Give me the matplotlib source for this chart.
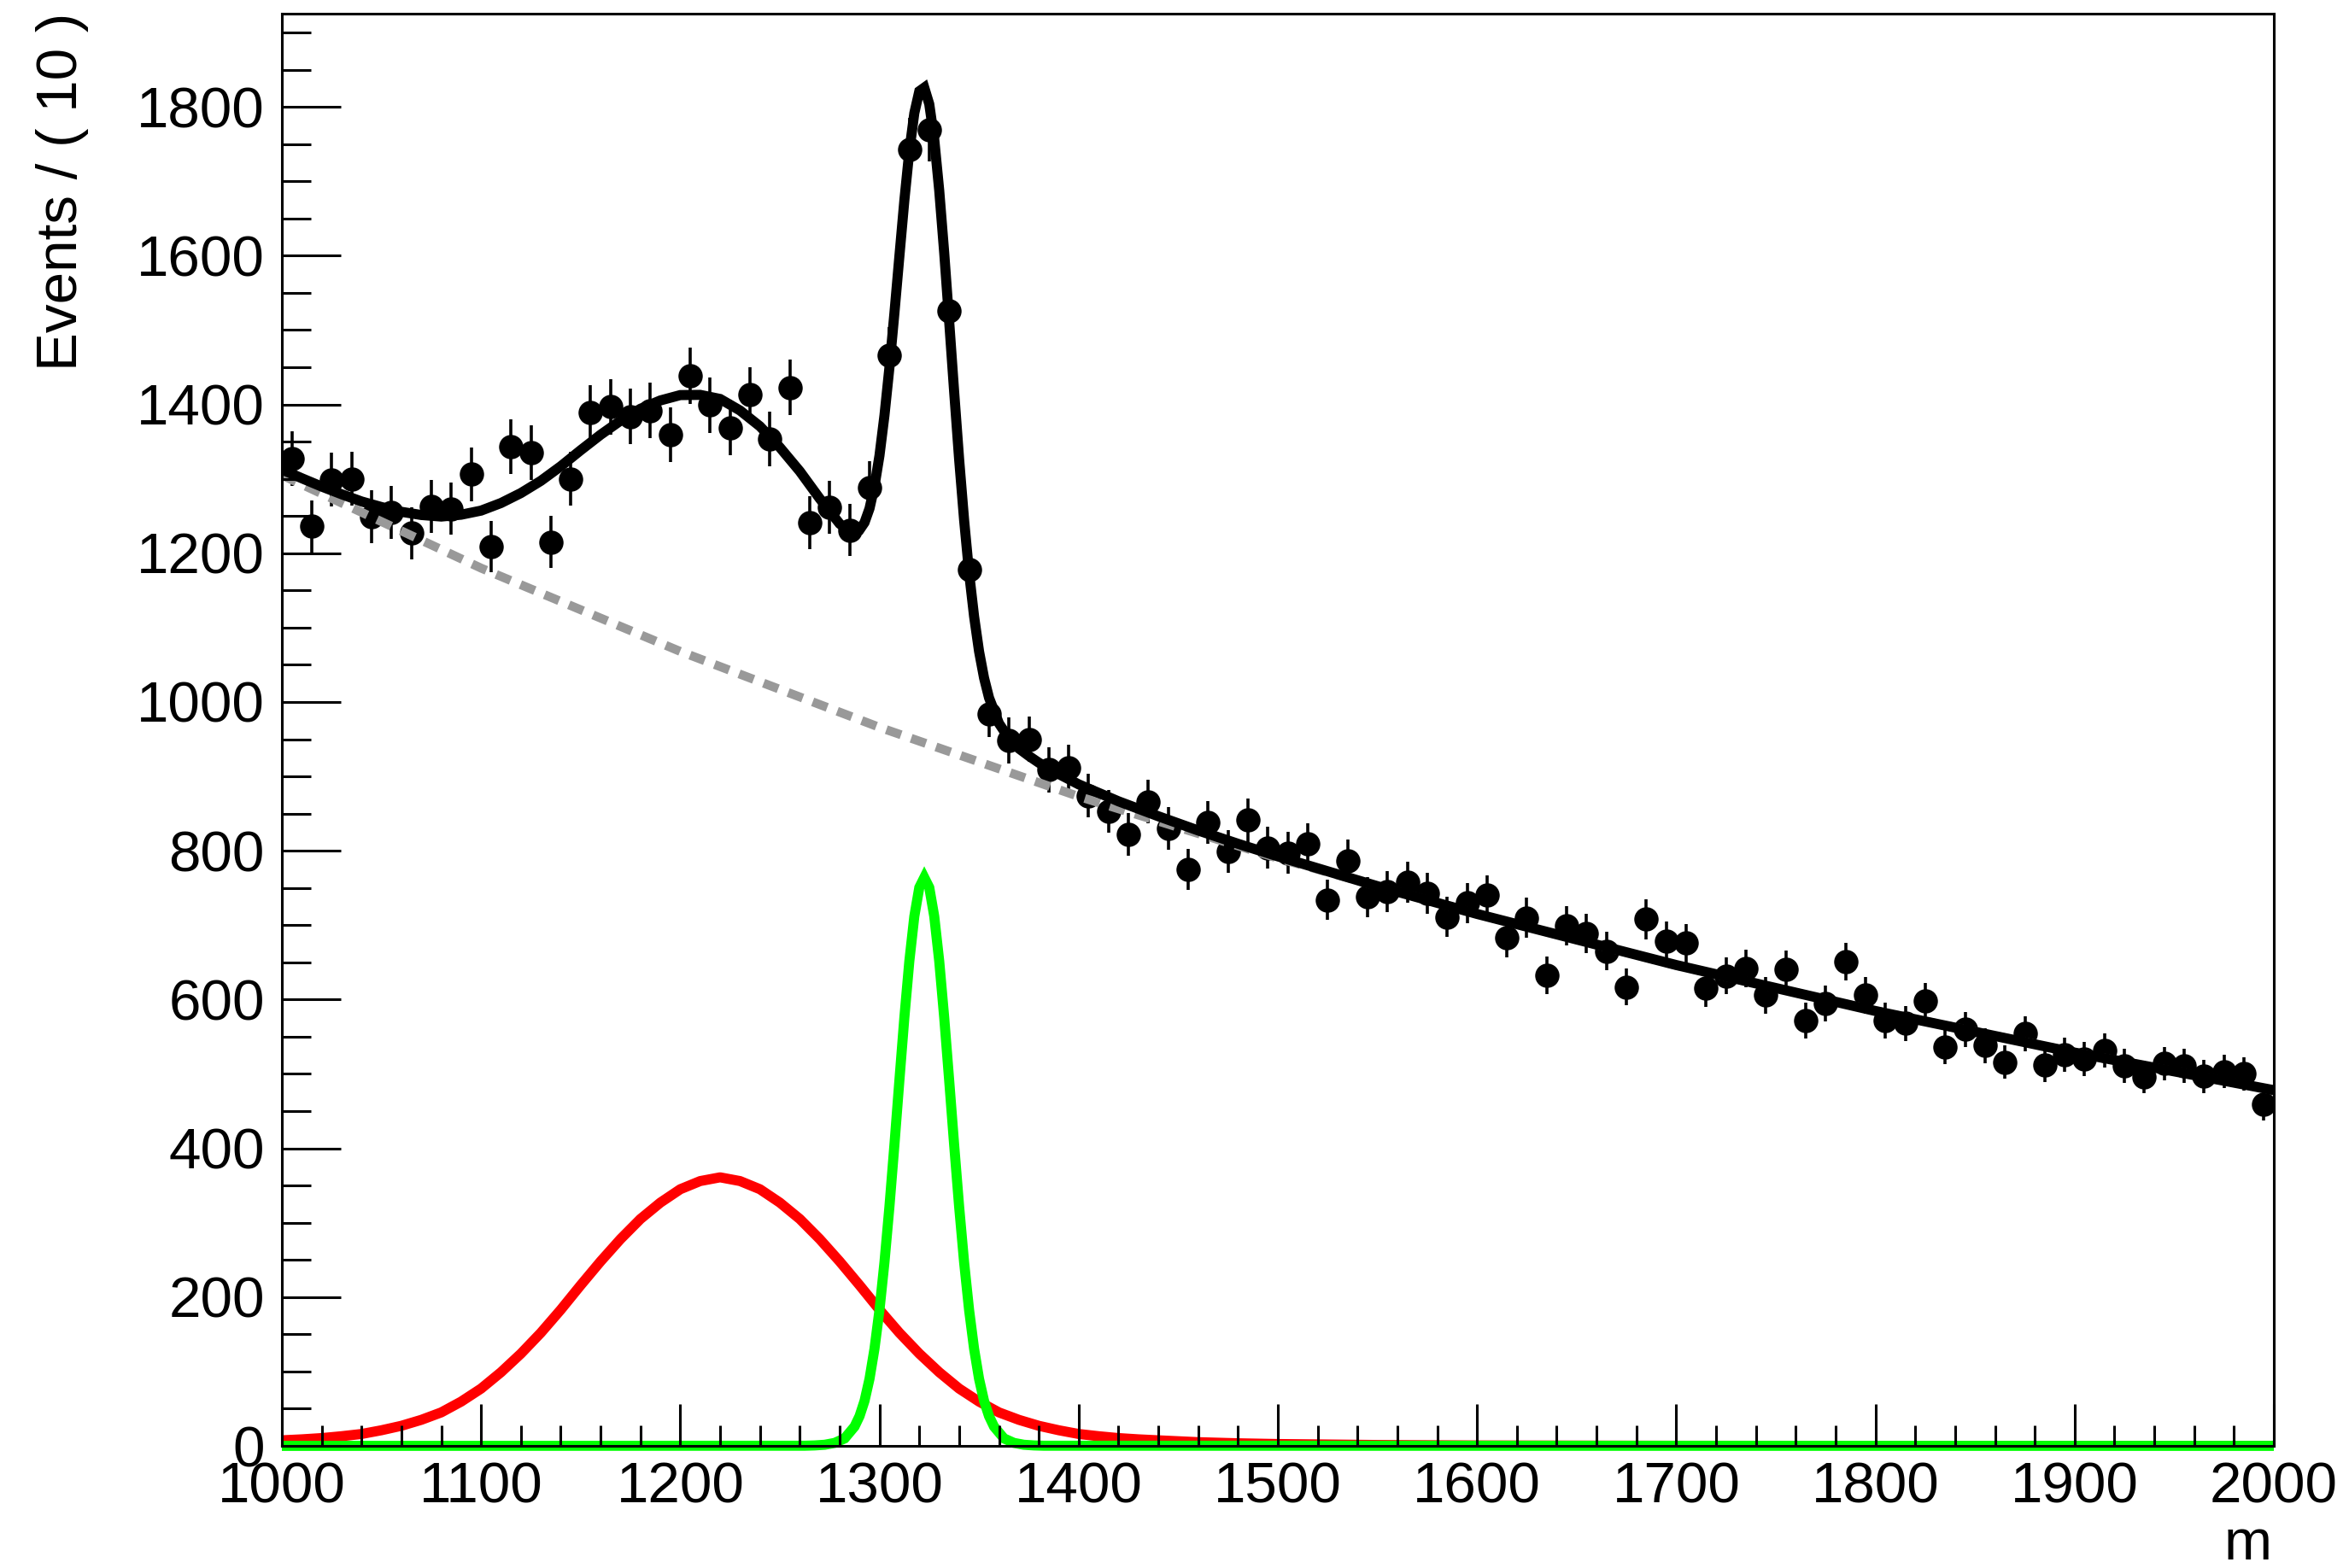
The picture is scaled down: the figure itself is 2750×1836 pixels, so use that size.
import numpy as np
import matplotlib
matplotlib.use("Agg")
import matplotlib.pyplot as plt
from matplotlib.ticker import MultipleLocator

plt.rcParams['font.family'] = ['Liberation Sans', 'DejaVu Sans']

# ---------------- data ----------------
bin_low = 1000
bin_width = 10
counts = [
    1327, 1236, 1299, 1300, 1249, 1255, 1227, 1263, 1260, 1306,
    1209, 1343, 1335, 1215, 1300, 1389, 1397, 1384, 1392, 1359,
    1439, 1399, 1369, 1413, 1354, 1423, 1241, 1262, 1231, 1288,
    1466, 1743, 1769, 1526, 1178, 984, 948, 950, 909, 912,
    874, 853, 822, 866, 830, 775, 838, 799, 841, 804,
    797, 809, 734, 787, 738, 745, 758, 743, 711, 730,
    740, 683, 710, 633, 699, 689, 665, 617, 708, 679,
    676, 615, 632, 642, 606, 641, 572, 595, 651, 606,
    572, 568, 598, 536, 560, 538, 516, 554, 512, 526,
    520, 532, 511, 496, 514, 511, 497, 503, 500, 459,
]

# background component (grey dashed)
bg_x = [1000, 1100, 1200, 1300, 1400, 1500, 1600, 1700, 1800, 1900, 2000]
bg_y = [1305, 1180, 1068, 966, 873, 790, 715, 646, 585, 529, 478]

# broad peak component (red)
red_x = [1000, 1010, 1020, 1030, 1040, 1050, 1060, 1070, 1080, 1090,
         1100, 1110, 1120, 1130, 1140, 1150, 1160, 1170, 1180, 1190,
         1200, 1210, 1220, 1230, 1240, 1250, 1260, 1270, 1280, 1290,
         1300, 1310, 1320, 1330, 1340, 1350, 1360, 1370, 1380, 1390,
         1400, 1410, 1420, 1430, 1440, 1460, 1480, 1500, 1550, 1600,
         1700, 1800, 2000]
red_y = [7.5, 8.8, 10.5, 13, 16, 21, 27, 35, 45, 59.5,
         77, 99, 124, 152, 183, 216, 248, 278, 305, 327,
         345, 356, 361, 356, 345, 327, 305, 278, 248, 216,
         183, 152, 124, 99, 77, 59.5, 45, 35, 27, 21,
         16, 13, 10.5, 8.8, 7.5, 5, 3.5, 2.5, 1.2, 0.6,
         0.2, 0.1, 0]

# narrow peak component (green)
green_x = [1000, 1262.5, 1267.5, 1272.5, 1277.5, 1282.5, 1287.5, 1290, 1292.5,
           1295, 1297.5, 1300, 1302.5, 1305, 1307.5, 1310, 1312.5, 1315,
           1317.5, 1320, 1322.5, 1325, 1327.5, 1330, 1332.5, 1335, 1337.5,
           1340, 1342.5, 1345, 1347.5, 1350, 1352.5, 1355, 1357.5, 1362.5,
           1367.5, 1372.5, 1377.5, 1382.5, 2000]
green_y = [0, 0.2, 0.6, 1.5, 4, 10, 26, 40, 60.5,
           90.1, 130.6, 182.6, 246.6, 321.5, 404.5, 491.2, 575.9, 651.7,
           711.9, 750.6, 764, 750.6, 711.9, 651.7, 575.9, 491.2, 404.5,
           321.5, 246.6, 182.6, 130.6, 90.1, 60.5, 40, 26, 10,
           4, 1.5, 0.6, 0.2, 0]

# total fit (black)
total_x = [1000, 1010, 1020, 1030, 1040, 1050, 1060, 1070, 1080, 1090,
           1100, 1110, 1120, 1130, 1140, 1150, 1160, 1170, 1180, 1190,
           1200, 1210, 1220, 1230, 1240, 1250, 1260, 1270, 1280, 1285,
           1290, 1292.5, 1295, 1297.5, 1300, 1302.5, 1305, 1307.5, 1310,
           1312.5, 1315, 1317.5, 1320, 1322.5, 1325, 1327.5, 1330, 1332.5,
           1335, 1337.5, 1340, 1342.5, 1345, 1347.5, 1350, 1352.5, 1355,
           1360, 1365, 1370, 1375, 1380, 1390, 1400, 1420, 1440, 1460,
           1480, 1500, 1550, 1600, 1700, 1800, 1900, 2000]
total_y = [1312.5, 1300.8, 1289.6, 1279.3, 1269.6, 1262.1, 1255.7, 1251.4, 1249.3, 1251.8,
           1257.3, 1267.5, 1280.9, 1297.3, 1316.9, 1338.5, 1359.3, 1378.2, 1394.2, 1405.4,
           1412.6, 1412.9, 1407.4, 1391.9, 1370.6, 1342.3, 1310.2, 1273.5, 1239.7, 1229.3,
           1231.4, 1241.3, 1260.1, 1290.0, 1331.2, 1385.1, 1449.8, 1522.7, 1599.2,
           1674.5, 1740.9, 1791.7, 1821.1, 1825.9, 1803.8, 1756.6, 1687.7, 1604.0,
           1511.4, 1416.9, 1326.1, 1244.4, 1173.5, 1115.1, 1068.0, 1032.4, 1005.7,
           971.2, 951.1, 937.5, 927.5, 918.4, 903.2, 889.3, 866.5, 846.4, 827.3,
           809.4, 792.5, 752.4, 715.1, 646.4, 584.6, 528.7, 478.2]

x_ticks_major = 100
x_ticks_minor = 20
y_ticks_major = 200
y_ticks_minor = 50

# ---------------- figure ----------------
W, H = 2750, 1836
fig = plt.figure(figsize=(W / 100, H / 100), dpi=100)
ax = fig.add_axes([330 / W, (H - 1693) / H, (2662 - 330) / W, (1693 - 15.7) / H])

counts_arr = np.asarray(counts, dtype=float)
centers = bin_low + bin_width * (np.arange(len(counts)) + 0.5)

ax.errorbar(centers, counts_arr, yerr=np.sqrt(counts_arr), fmt='o', color='black',
            ms=20.5, mew=0, elinewidth=2.6, capsize=5.4, capthick=3.0, zorder=2)
ax.plot(bg_x, bg_y, color='#999999', lw=7.5, dashes=(1.75, 1.2),
        dash_capstyle='butt', zorder=3)
ax.plot(total_x, total_y, color='black', lw=8.5, solid_joinstyle='miter', zorder=4)
ax.plot(red_x, red_y, color=(1, 0, 0), lw=8.5, solid_capstyle='butt', zorder=5)
ax.plot(green_x, green_y, color=(0, 1, 0), lw=8.5, solid_capstyle='butt',
        solid_joinstyle='miter', zorder=6, clip_on=False)

ax.set_xlim(1000, 2000)
ax.set_ylim(0, 1925.7)

ax.xaxis.set_major_locator(MultipleLocator(x_ticks_major))
ax.xaxis.set_minor_locator(MultipleLocator(x_ticks_minor))
ax.yaxis.set_major_locator(MultipleLocator(y_ticks_major))
ax.yaxis.set_minor_locator(MultipleLocator(y_ticks_minor))

ax.tick_params(axis='both', which='both', direction='in', top=False, right=False,
               color='black', width=2.2)
ax.tick_params(axis='y', which='major', length=49.7, pad=14.4, labelsize=48.5)
ax.tick_params(axis='y', which='minor', length=24.5)
ax.tick_params(axis='x', which='major', length=35.3, pad=13.5, labelsize=48.5)
ax.tick_params(axis='x', which='minor', length=17.6)

for sp in ax.spines.values():
    sp.set_linewidth(2.2)
    sp.set_zorder(10)
ax.xaxis.set_zorder(10)
ax.yaxis.set_zorder(10)

fig.text(90 / W, 1 - 15 / H, 'Events / ( 10 )', rotation=90, rotation_mode='anchor',
         ha='right', va='baseline', fontsize=48.5)
fig.text(2660 / W, 1 - 1826 / H, 'm', ha='right', va='baseline', fontsize=48.5)

fig.savefig('out.png', dpi=100)
